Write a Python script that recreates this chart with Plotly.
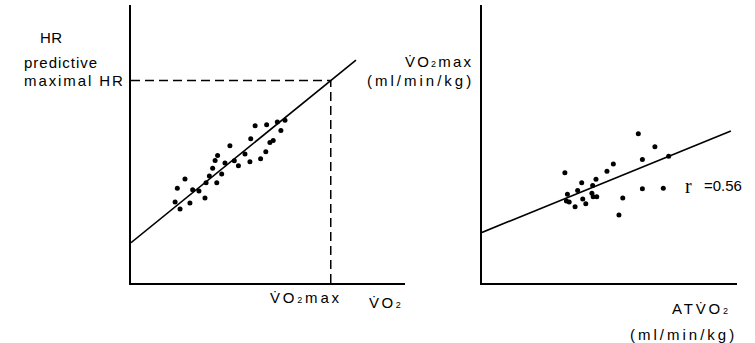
import plotly.graph_objects as go

W, H = 755, 343

# ---------------- data (plot units 0-100) ----------------
# Left panel: HR vs VO2
vo2_points = [16.1, 17.9, 16.9, 19.7, 21.5, 22.5, 24.8, 27.0, 27.4, 28.6, 29.8,
              30.7, 31.6, 31.3, 33.1, 34.3, 36.1, 37.7, 39.2, 41.6, 43.4, 43.7,
              45.3, 47.3, 49.2, 49.5, 50.7, 51.9, 53.4, 54.7, 56.2]
hr_points = [29.1, 26.6, 34.1, 37.4, 28.8, 33.5, 33.1, 30.6, 36.1, 38.5, 41.3,
             44.1, 45.9, 36.1, 39.2, 43.2, 49.4, 44.0, 42.2, 46.4, 43.6, 51.9,
             56.6, 44.7, 47.2, 56.9, 50.5, 51.3, 57.9, 54.9, 58.5]
hr_fit_x = [0, 82.1]
hr_fit_intercept = 14.5
hr_fit_slope = 0.8
vo2max_x = 72.9

# Right panel: VO2max vs AT VO2
atvo2_points = [32.5, 33.5, 33.1, 34.2, 36.5, 37.5, 39.1, 39.5, 40.7, 43.4, 43.1,
                43.6, 45.0, 44.7, 49.0, 51.5, 53.7, 55.2, 61.3, 62.9, 62.9, 67.8,
                71.1, 73.2]
vo2max_points = [39.7, 31.9, 29.5, 29.1, 27.4, 33.3, 36.1, 30.2, 28.5, 35.1, 32.3,
                 31.0, 31.0, 37.3, 40.2, 42.8, 24.5, 30.6, 53.7, 44.4, 33.9, 49.0,
                 34.1, 45.6]
at_fit_x = [0, 97.6]
at_fit_intercept = 18.2
at_fit_slope = 0.374
r_symbol = "r"
r_value_text = "=0.56"

# text labels
left_y_labels = ["HR", "predictive", "maximal HR"]
right_y_labels = [["V\u0307O", "2", "max"], ["(ml/min/kg)"]]
left_x_labels = [["V\u0307O", "2", "max"], ["V\u0307O", "2"]]
right_x_labels = [["ATV\u0307O", "2"], ["(ml/min/kg)"]]

# ---------------- figure ----------------
hr_fit_y = [hr_fit_intercept + hr_fit_slope * x for x in hr_fit_x]
hrmax_y = hr_fit_intercept + hr_fit_slope * vo2max_x
at_fit_y = [at_fit_intercept + at_fit_slope * x for x in at_fit_x]

fig = go.Figure()
black = "black"
dot = dict(color=black, size=5)

fig.add_trace(go.Scatter(x=[0, vo2max_x], y=[hrmax_y, hrmax_y], mode="lines",
                         line=dict(color=black, width=1.5, dash="9px,5px"),
                         xaxis="x", yaxis="y", hoverinfo="skip"))
fig.add_trace(go.Scatter(x=[vo2max_x, vo2max_x], y=[0, hrmax_y], mode="lines",
                         line=dict(color=black, width=1.5, dash="9px,5px"),
                         xaxis="x", yaxis="y", hoverinfo="skip"))
fig.add_trace(go.Scatter(x=hr_fit_x, y=hr_fit_y, mode="lines",
                         line=dict(color=black, width=1.6), xaxis="x", yaxis="y"))
fig.add_trace(go.Scatter(x=vo2_points, y=hr_points, mode="markers", marker=dot,
                         xaxis="x", yaxis="y"))

fig.add_trace(go.Scatter(x=at_fit_x, y=at_fit_y, mode="lines",
                         line=dict(color=black, width=1.6), xaxis="x2", yaxis="y2"))
fig.add_trace(go.Scatter(x=atvo2_points, y=vo2max_points, mode="markers", marker=dot,
                         xaxis="x2", yaxis="y2"))

ax = dict(showline=True, linewidth=2, linecolor=black, showticklabels=False,
          ticks="", showgrid=False, zeroline=False, range=[0, 100], fixedrange=True)
ydom = [1 - 283 / H, 1 - 5 / H]
fig.update_layout(
    width=W, height=H, margin=dict(l=0, r=0, t=0, b=0),
    paper_bgcolor="white", plot_bgcolor="white", showlegend=False,
    xaxis=dict(ax, domain=[131 / W, 405 / W], anchor="y"),
    yaxis=dict(ax, domain=ydom, anchor="x"),
    xaxis2=dict(ax, domain=[482 / W, 737 / W], anchor="y2"),
    yaxis2=dict(ax, domain=ydom, anchor="x2"),
)


def styled(parts, spacing, sub_size=9):
    """parts: list of strings; odd-indexed ones are small subscripts."""
    out = []
    for i, p in enumerate(parts):
        if i % 2 == 1:
            out.append(f'<span style="font-size:{sub_size}px;letter-spacing:{spacing}px">{p}</span>')
        else:
            out.append(f'<span style="letter-spacing:{spacing}px">{p}</span>')
    return "".join(out)


SANS = "Liberation Sans, Arial, sans-serif"


def label(text, px, py, xanchor="center", size=15, family=SANS):
    return dict(text=text, x=px / W, y=1 - py / H, xref="paper", yref="paper",
                xanchor=xanchor, yanchor="middle", showarrow=False,
                font=dict(size=size, family=family, color=black))


ann = [
    label(styled([left_y_labels[0]], 0.5), 51, 38),
    label(styled([left_y_labels[1]], 1.0), 22, 63, "left"),
    label(styled([left_y_labels[2]], 1.9), 22, 80, "left"),
    label(styled(right_y_labels[0], 2.2), 475, 61, "right"),
    label(styled(right_y_labels[1], 3.0), 476, 80, "right"),
    label(styled(left_x_labels[0], 2.8), 306, 297),
    label(styled(left_x_labels[1], 2.5), 386, 302),
    label(styled(right_x_labels[0], 2.8), 701, 308),
    label(styled(right_x_labels[1], 3.0), 683, 334),
    label(r_symbol, 683, 186, "left", size=20, family="Liberation Serif, serif"),
    label(r_value_text, 702, 185, "left", size=15),
]
fig.update_layout(annotations=ann)

fig.write_html("out.html")
